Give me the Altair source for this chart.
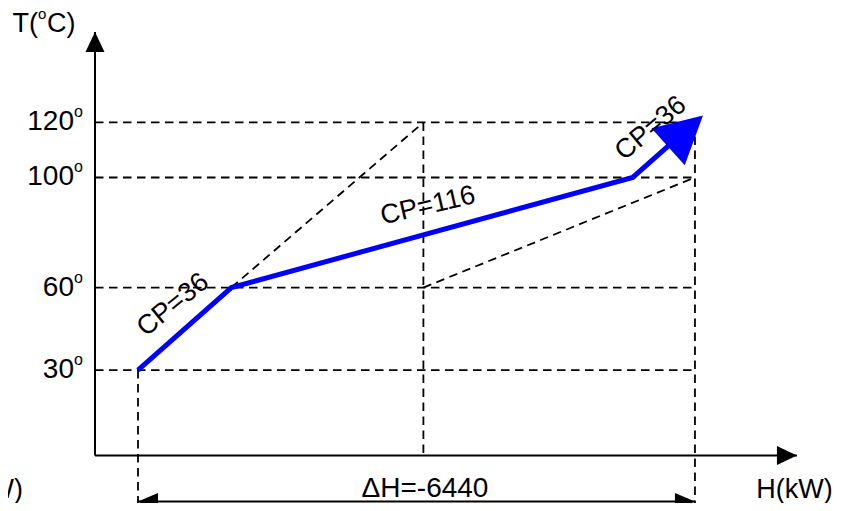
import altair as alt
import pandas as pd

# ---------------- data ----------------
# composite (hot) curve: enthalpy H (kW) vs temperature T (degC)
curve_H = [0, 1080, 5720, 6440]
curve_T = [30, 60, 100, 120]
cp_labels = ["CP=36", "CP=116", "CP=36"]

# temperature levels marked on the T axis
tick_T = [120, 100, 60, 30]
tick_labels = ["120", "100", "60", "30"]

# dashed guide segments (H1,T1) -> (H2,T2)
guide_H1 = [-497, -497, -497, -497, 0, 3300, 6440, 1080, 3300]
guide_T1 = [120, 100, 60, 30, 30, 120, 120, 60, 60]
guide_H2 = [6440, 6440, 6440, 6440, 0, 3300, 6440, 3300, 6440]
guide_T2 = [120, 100, 60, 30, -19, -1, -19, 120, 100]

# axis extents
axis_H = [-497, 7619]
axis_T = [-1, 152.9]

# enthalpy difference bar
dH_value = -6440
dH_span = [0, 6440]
dH_T = -17.8

# ---------------- styling ----------------
FONT = "Liberation Sans"
BLUE = "#0000ff"
xs = alt.Scale(domain=[-1503, 8117], nice=False, zero=False)
ys = alt.Scale(domain=[-18.3, 161.6], nice=False, zero=False)
X = lambda f: alt.X(f, type="quantitative", scale=xs, axis=None)
Y = lambda f: alt.Y(f, type="quantitative", scale=ys, axis=None)

ARROW_AX = "M0,0L-0.95,2L0.95,2Z"
ARROW_DH = "M0,0L-0.85,2L0.85,2Z"
ARROW_BLUE = "M0,0L-1.06,2L1.06,2Z"

layers = []

# dashed guides
guides = pd.DataFrame({"H1": guide_H1, "T1": guide_T1, "H2": guide_H2, "T2": guide_T2})
layers.append(
    alt.Chart(guides).mark_rule(color="black", strokeWidth=1.8, strokeDash=[8.5, 5.5]).encode(
        x=X("H1"), y=Y("T1"), x2="H2", y2="T2"
    )
)

# axes
axes = pd.DataFrame({
    "H1": [axis_H[0], axis_H[0]], "T1": [axis_T[0], axis_T[0]],
    "H2": [axis_H[0], axis_H[1]], "T2": [axis_T[1], axis_T[0]],
})
layers.append(
    alt.Chart(axes).mark_rule(color="black", strokeWidth=2).encode(
        x=X("H1"), y=Y("T1"), x2="H2", y2="T2"
    )
)
# axis arrowheads
ax_heads = pd.DataFrame({"H": [axis_H[0], axis_H[1]], "T": [axis_T[1], axis_T[0]], "a": [0, 90]})
layers.append(
    alt.Chart(ax_heads).mark_point(shape=ARROW_AX, size=400, filled=True, opacity=1,
                                   color="black", strokeWidth=0).encode(
        x=X("H"), y=Y("T"), angle=alt.Angle("a:Q", scale=None)
    )
)

# delta H double arrow
dh = pd.DataFrame({"H1": [dH_span[0]], "H2": [dH_span[1]], "T": [dH_T]})
layers.append(
    alt.Chart(dh).mark_rule(color="black", strokeWidth=2).encode(x=X("H1"), x2="H2", y=Y("T"))
)
dh_heads = pd.DataFrame({"H": dH_span, "T": [dH_T, dH_T], "a": [270, 90]})
layers.append(
    alt.Chart(dh_heads).mark_point(shape=ARROW_DH, size=400, filled=True, opacity=1,
                                   color="black", strokeWidth=0).encode(
        x=X("H"), y=Y("T"), angle=alt.Angle("a:Q", scale=None)
    )
)

# blue composite curve
curve = pd.DataFrame({"H": curve_H, "T": curve_T, "o": list(range(len(curve_H)))})
layers.append(
    alt.Chart(curve).mark_line(color=BLUE, strokeWidth=5, strokeJoin="miter").encode(
        x=X("H"), y=Y("T"), order="o:Q"
    )
)
end = pd.DataFrame({"H": [curve_H[-1]], "T": [curve_T[-1]]})
layers.append(
    alt.Chart(end).mark_point(shape=ARROW_BLUE, size=2200, filled=True, opacity=1, color=BLUE,
                              strokeWidth=0, angle=48, xOffset=8, yOffset=-7).encode(
        x=X("H"), y=Y("T")
    )
)

# tick labels with superscript degree "o"
ticks = pd.DataFrame({"H": [axis_H[0]] * len(tick_T), "T": tick_T, "lab": tick_labels})
layers.append(
    alt.Chart(ticks).mark_text(align="right", baseline="middle", dx=-21, fontSize=28,
                               font=FONT, color="black").encode(x=X("H"), y=Y("T"), text="lab:N")
)
layers.append(
    alt.Chart(ticks).mark_text(text="o", align="left", baseline="alphabetic", dx=-21, dy=-5,
                               fontSize=16, font=FONT, color="black").encode(x=X("H"), y=Y("T"))
)

# CP labels on segment midpoints
cp_style = [(321, 6, -26), (347, 2, -27), (320, 4, -25)]
for i, lab in enumerate(cp_labels):
    mid = pd.DataFrame({
        "H": [(curve_H[i] + curve_H[i + 1]) / 2],
        "T": [(curve_T[i] + curve_T[i + 1]) / 2],
        "lab": [lab],
    })
    ang, ddx, ddy = cp_style[i]
    layers.append(
        alt.Chart(mid).mark_text(align="center", baseline="middle", angle=ang, dx=ddx, dy=ddy,
                                 fontSize=27, font=FONT, color="black").encode(
            x=X("H"), y=Y("T"), text="lab:N"
        )
    )

# axis titles
top = pd.DataFrame({"H": [axis_H[0]], "T": [axis_T[1]]})
layers.append(alt.Chart(top).mark_text(text="T(", align="right", baseline="alphabetic", dx=-57,
                                       fontSize=27, font=FONT, color="black").encode(x=X("H"), y=Y("T")))
layers.append(alt.Chart(top).mark_text(text="o", align="left", baseline="alphabetic", dx=-57, dy=-13,
                                       fontSize=15, font=FONT, color="black").encode(x=X("H"), y=Y("T")))
layers.append(alt.Chart(top).mark_text(text="C)", align="left", baseline="alphabetic", dx=-48,
                                       fontSize=27, font=FONT, color="black").encode(x=X("H"), y=Y("T")))

xt = pd.DataFrame({"H": [axis_H[1], axis_H[0]], "T": [axis_T[0], axis_T[0]],
                   "al": ["H(kW)", "H(kW)"]})
layers.append(alt.Chart(xt.iloc[[0]]).mark_text(align="center", baseline="alphabetic", dx=-2.5, dy=43,
                                                fontSize=27, font=FONT, color="black").encode(
    x=X("H"), y=Y("T"), text="al:N"))
layers.append(alt.Chart(xt.iloc[[1]]).mark_text(align="right", baseline="alphabetic", dx=-72, dy=43,
                                                fontSize=27, font=FONT, color="black").encode(
    x=X("H"), y=Y("T"), text="al:N"))

# delta H label
dhl = pd.DataFrame({"H": [(dH_span[0] + dH_span[1]) / 2], "T": [dH_T], "lab": [f"\u0394H={dH_value}"]})
layers.append(alt.Chart(dhl).mark_text(align="center", baseline="alphabetic", dx=8.5, dy=-5,
                                       fontSize=28, font=FONT, color="black").encode(
    x=X("H"), y=Y("T"), text="lab:N"))

chart = alt.layer(*layers).properties(
    width=832, height=495, padding=0, autosize=alt.AutoSizeParams(type="none"),
    background="white",
).configure_view(stroke=None)

chart.save("out.html", embed_options={"renderer": "svg", "actions": False})
